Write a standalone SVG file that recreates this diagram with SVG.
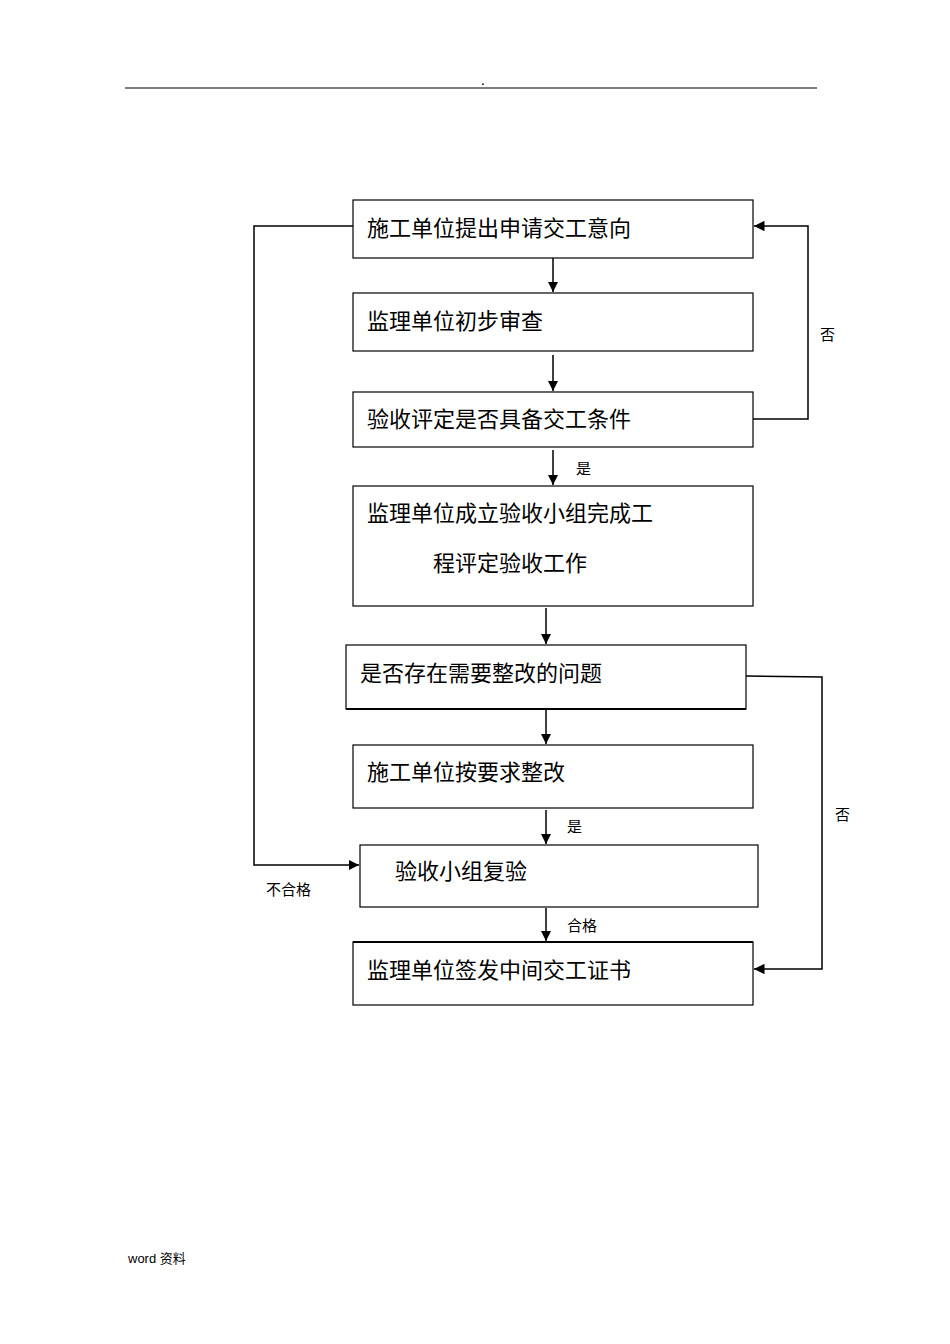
<svg xmlns="http://www.w3.org/2000/svg" width="950" height="1344" viewBox="0 0 950 1344">
<style>
.b{fill:#fff;stroke:#000;stroke-width:1.2}
.t{font-family:"Liberation Serif","Noto Sans CJK SC",serif;font-size:22px;fill:#000}
.s{font-family:"Liberation Serif","Noto Sans CJK SC",serif;font-size:15px;fill:#000}
.c{fill:none;stroke:#000;stroke-width:1.5}
</style>
<defs><marker id="a" viewBox="0 0 10 10" refX="10" refY="5" markerWidth="7" markerHeight="7" orient="auto"><path d="M0,0L10,5L0,10z" fill="#000"/></marker></defs>
<rect width="950" height="1344" fill="#fff"/>
<line x1="125" y1="88" x2="817" y2="88" stroke="#000" stroke-width="1.2"/>
<text x="481" y="85" class="s" font-size="10">.</text>
<g id="n1"><rect class="b" x="353" y="200" width="400" height="58"/><text class="t" x="367" y="236">施工单位提出申请交工意向</text></g>
<g id="n2"><rect class="b" x="353" y="293" width="400" height="58"/><text class="t" x="367" y="329">监理单位初步审查</text></g>
<g id="n3"><rect class="b" x="353" y="392" width="400" height="55"/><text class="t" x="367" y="427">验收评定是否具备交工条件</text></g>
<g id="n4"><rect class="b" x="353" y="486" width="400" height="120"/><text class="t" x="367" y="521">监理单位成立验收小组完成工</text><text class="t" x="433" y="571">程评定验收工作</text></g>
<g id="n5"><rect class="b" x="346" y="645" width="400" height="64"/><line x1="346" y1="709" x2="746" y2="709" stroke="#000" stroke-width="2"/><text class="t" x="360" y="681">是否存在需要整改的问题</text></g>
<g id="n6"><rect class="b" x="353" y="745" width="400" height="63"/><text class="t" x="367" y="780">施工单位按要求整改</text></g>
<g id="n7"><rect class="b" x="360" y="845" width="398" height="62"/><text class="t" x="395" y="879">验收小组复验</text></g>
<g id="n8"><rect class="b" x="353" y="942" width="400" height="63"/><line x1="353" y1="942" x2="753" y2="942" stroke="#000" stroke-width="2"/><text class="t" x="367" y="978">监理单位签发中间交工证书</text></g>
<g id="connectors">
<line class="c" x1="553" y1="258" x2="553" y2="292" marker-end="url(#a)"/>
<line class="c" x1="553" y1="355" x2="553" y2="391" marker-end="url(#a)"/>
<line class="c" x1="553" y1="450" x2="553" y2="485" marker-end="url(#a)"/>
<line class="c" x1="546" y1="608" x2="546" y2="644" marker-end="url(#a)"/>
<line class="c" x1="546" y1="710" x2="546" y2="744" marker-end="url(#a)"/>
<line class="c" x1="546" y1="810" x2="546" y2="844" marker-end="url(#a)"/>
<line class="c" x1="546" y1="908" x2="546" y2="941" marker-end="url(#a)"/>
<polyline class="c" points="753,419 808,419 808,226 754,226" marker-end="url(#a)"/>
<polyline class="c" points="746,676 822,677 822,969 754,969" marker-end="url(#a)"/>
<polyline class="c" points="353,226 254,226 254,865 359,865" marker-end="url(#a)"/>
</g>
<text class="s" x="820" y="340">否</text>
<text class="s" x="835" y="820">否</text>
<text class="s" x="576" y="474">是</text>
<text class="s" x="567" y="832">是</text>
<text class="s" x="567" y="931">合格</text>
<text class="s" x="266" y="895">不合格</text>
<text x="128" y="1263" font-family="'Liberation Sans','Noto Sans CJK SC',sans-serif" font-size="13">word 资料</text>
</svg>
